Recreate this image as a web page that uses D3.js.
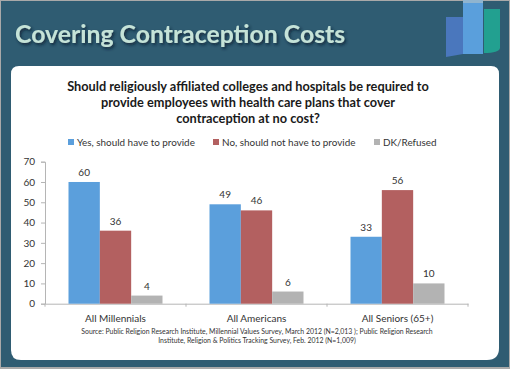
<!DOCTYPE html>
<html>
<head>
<meta charset="utf-8">
<script src="https://cdn.jsdelivr.net/npm/d3@7"></script>
<style>
  html, body { margin: 0; padding: 0; background: #fff; }
  svg { display: block; }
  text { font-family: Lato, "Open Sans", sans-serif; }
</style>
</head>
<body>
<svg id="chart" width="510" height="369"></svg>
<script>
const categories = ["All Millennials", "All Americans", "All Seniors (65+)"];
const seriesNames = ["Yes, should have to provide", "No, should not have to provide", "DK/Refused"];
const yesValues = [60, 49, 33];
const noValues = [36, 46, 56];
const dkValues = [4, 6, 10];
const yTicks = [0, 10, 20, 30, 40, 50, 60, 70];
const seriesColors = ["#5b9fdc", "#b36060", "#b3b3b3"];
const questionLines = [
  "Should religiously affiliated colleges and hospitals be required to",
  "provide employees with health care plans that cover",
  "contraception at no cost?"
];
const sourceLines = [
  "Source: Public Religion Research Institute, Millennial Values Survey, March 2012 (N=2,013 ); Public Religion Research",
  "Institute, Religion & Politics Tracking Survey, Feb. 2012 (N=1,009)"
];

const svg = d3.select("#chart");
const defs = svg.append("defs");

const shadow = defs.append("filter").attr("id", "titleShadow")
  .attr("x", "-5%").attr("y", "-20%").attr("width", "110%").attr("height", "150%");
shadow.append("feDropShadow")
  .attr("dx", 1.5).attr("dy", 2).attr("stdDeviation", 1.5)
  .attr("flood-color", "#0c2430").attr("flood-opacity", 0.85);

// Slide background
svg.append("rect").attr("width", 510).attr("height", 369).attr("fill", "#a9a9a9");
svg.append("rect").attr("x", 1).attr("y", 1).attr("width", 508).attr("height", 366).attr("fill", "#2f5c72");

// Logo in the top right corner
const logo = svg.append("g");
logo.append("path").attr("d", "M446 17H463V54L446 57Z").attr("fill", "#4a77bd");
logo.append("path").attr("d", "M463 0H483V54H463Z").attr("fill", "#5a9fdc");
logo.append("rect").attr("x", 463).attr("y", 0).attr("width", 20).attr("height", 3).attr("fill", "#8fb4cf");
logo.append("path").attr("d", "M484 9H500V48Q499 53 484 53Z").attr("fill", "#22a090");

svg.append("text")
  .attr("x", 15).attr("y", 43)
  .attr("font-size", 24.8).attr("font-weight", 700)
  .attr("fill", "#c5e3d8")
  .attr("filter", "url(#titleShadow)")
  .text("Covering Contraception Costs");

// White panel
svg.append("path")
  .attr("d", "M19 66H491Q499 66 499 74V348Q499 360 487 360H21Q11 360 11 350V74Q11 66 19 66Z")
  .attr("fill", "#fff");

svg.append("g").selectAll("text").data(questionLines).join("text")
  .attr("x", 248)
  .attr("y", (d, i) => 91 + i * 16)
  .attr("text-anchor", "middle")
  .attr("font-size", 12.75).attr("font-weight", 700)
  .attr("fill", "#1a1a1a")
  .text(d => d);

// Legend
const legendX = [68, 213, 374];
const legend = svg.append("g").selectAll("g").data(seriesNames).join("g")
  .attr("transform", (d, i) => `translate(${legendX[i]},139)`);
legend.append("rect").attr("width", 6).attr("height", 6).attr("fill", (d, i) => seriesColors[i]);
legend.append("text")
  .attr("x", 9).attr("y", 7)
  .attr("font-size", 9.9).attr("fill", "#333")
  .text(d => d);

// Chart
const margin = { top: 161.7, right: 42, bottom: 65.3, left: 45 };
const width = 510 - margin.left - margin.right;
const height = 369 - margin.top - margin.bottom;
const g = svg.append("g").attr("transform", `translate(${margin.left},${margin.top})`);

const x0 = d3.scaleBand().domain(categories).range([0, width]);
const x1 = d3.scaleBand().domain(d3.range(3)).range([0, x0.bandwidth()]).paddingOuter(0.75).paddingInner(0);
const y = d3.scaleLinear().domain([0, 70]).range([height, 0]);

const yAxis = d3.axisLeft(y).tickValues(yTicks).tickSize(4).tickPadding(6);
const yAxisG = g.append("g").call(yAxis);

const xAxis = d3.axisBottom(x0).tickSize(0).tickPadding(11);
const xAxisG = g.append("g").attr("transform", `translate(0,${height})`).call(xAxis);
// category boundary ticks sit between the groups
xAxisG.selectAll(".boundary").data(d3.range(4)).join("line")
  .attr("class", "boundary")
  .attr("x1", d => d * x0.step()).attr("x2", d => d * x0.step())
  .attr("y1", 0).attr("y2", 3)
  .attr("stroke", "#b5b5b5");

[yAxisG, xAxisG].forEach(a => {
  a.selectAll(".domain").attr("stroke", "#b5b5b5");
  a.selectAll(".tick line").attr("stroke", "#b5b5b5");
  a.selectAll("text").attr("font-size", 10).attr("fill", "#333")
    .style("font-family", "Lato, 'Open Sans', sans-serif");
});

const seriesValues = [yesValues, noValues, dkValues];
const groups = g.selectAll(".group").data(categories).join("g")
  .attr("class", "group")
  .attr("transform", d => `translate(${x0(d)},0)`);

groups.each(function (cat, c) {
  const row = seriesValues.map((vals, s) => ({ s: s, value: vals[c] }));
  const sel = d3.select(this);
  sel.selectAll("rect").data(row).join("rect")
    .attr("x", d => x1(d.s))
    .attr("y", d => y(d.value))
    .attr("width", x1.bandwidth())
    .attr("height", d => height - y(d.value))
    .attr("fill", d => seriesColors[d.s]);
  sel.selectAll("text").data(row).join("text")
    .attr("x", d => x1(d.s) + x1.bandwidth() / 2)
    .attr("y", d => y(d.value) - 6)
    .attr("text-anchor", "middle")
    .attr("font-size", 10).attr("fill", "#333")
    .text(d => d.value);
});

svg.append("g").selectAll("text").data(sourceLines).join("text")
  .attr("x", 257)
  .attr("y", (d, i) => 334 + i * 9)
  .attr("text-anchor", "middle")
  .attr("font-size", 6.9).attr("fill", "#333")
  .text(d => d);
</script>
</body>
</html>
